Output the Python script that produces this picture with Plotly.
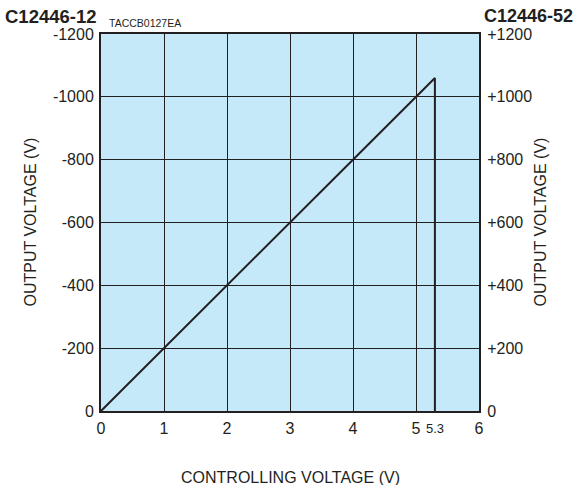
import plotly.graph_objects as go

x_vals = [0, 5.3, 5.3]
y_vals = [0, 1060, 0]
x_ticks = [0, 1, 2, 3, 4, 5, 6]
y_ticks = [0, 200, 400, 600, 800, 1000, 1200]
y_left_labels = ["0", "-200", "-400", "-600", "-800", "-1000", "-1200"]
y_right_labels = ["0", "+200", "+400", "+600", "+800", "+1000", "+1200"]

FONT = "Liberation Sans, Arial, sans-serif"
INK = "#231f20"

fig = go.Figure()
fig.add_trace(go.Scatter(x=x_vals, y=y_vals, mode="lines",
                         line=dict(color=INK, width=2), showlegend=False,
                         hoverinfo="skip"))
fig.add_trace(go.Scatter(x=[0], y=[0], yaxis="y2", mode="markers",
                         marker=dict(opacity=0), showlegend=False, hoverinfo="skip"))

fig.update_layout(
    width=576, height=485,
    margin=dict(l=101, r=97, t=34, b=74, autoexpand=False),
    paper_bgcolor="white",
    plot_bgcolor="#c6e9f9",
    font=dict(family=FONT, size=16, color=INK),
    xaxis=dict(range=[0, 6], tickvals=x_ticks, ticktext=[str(v) for v in x_ticks],
               showgrid=True, gridcolor=INK, gridwidth=1,
               showline=True, linecolor=INK, linewidth=2, mirror=True,
               ticks="outside", ticklen=2, tickcolor="rgba(0,0,0,0)",
               zeroline=False, tickfont=dict(size=16), automargin=False),
    yaxis=dict(range=[0, 1200], tickvals=y_ticks, ticktext=y_left_labels,
               showgrid=True, gridcolor=INK, gridwidth=1,
               showline=True, linecolor=INK, linewidth=2, mirror=True,
               ticks="outside", ticklen=2, tickcolor="rgba(0,0,0,0)",
               zeroline=False, tickfont=dict(size=16), automargin=False),
    yaxis2=dict(range=[0, 1200], tickvals=y_ticks, ticktext=y_right_labels,
                overlaying="y", side="right", showgrid=False, zeroline=False,
                ticks="outside", ticklen=4, tickcolor="rgba(0,0,0,0)",
                tickfont=dict(size=16), automargin=False),
    annotations=[
        dict(text="CONTROLLING VOLTAGE (V)", x=0.5, y=-(477 - 411) / (485 - 34 - 74),
             xref="paper", yref="paper", yanchor="middle",
             showarrow=False, font=dict(size=16)),
        dict(text="OUTPUT VOLTAGE (V)", x=0, y=0.5, xref="paper", yref="paper",
             xanchor="center", yanchor="middle", xshift=-71, textangle=-90,
             showarrow=False, font=dict(size=16)),
        dict(text="OUTPUT VOLTAGE (V)", x=1, y=0.5, xref="paper", yref="paper",
             xanchor="center", yanchor="middle", xshift=61, textangle=-90,
             showarrow=False, font=dict(size=16)),
        dict(text="<b>C12446-12</b>", x=0, y=1, xref="paper", yref="paper",
             xanchor="right", yanchor="middle", xshift=-2, yshift=18, showarrow=False,
             font=dict(size=18.5)),
        dict(text="TACCB0127EA", x=0, y=1, xref="paper", yref="paper",
             xanchor="left", yanchor="middle", xshift=6, yshift=11, showarrow=False,
             font=dict(size=10.5)),
        dict(text="<b>C12446-52</b>", x=1, y=1, xref="paper", yref="paper",
             xanchor="left", yanchor="middle", xshift=3, yshift=18, showarrow=False,
             font=dict(size=18)),
        dict(text="5.3", x=5.3, y=0, xref="x", yref="paper",
             xanchor="center", yanchor="top", yshift=-8, showarrow=False,
             font=dict(size=13)),
    ],
)

fig.write_html("out.html", config={"displayModeBar": False},
               post_script="document.body.style.margin='0';")
